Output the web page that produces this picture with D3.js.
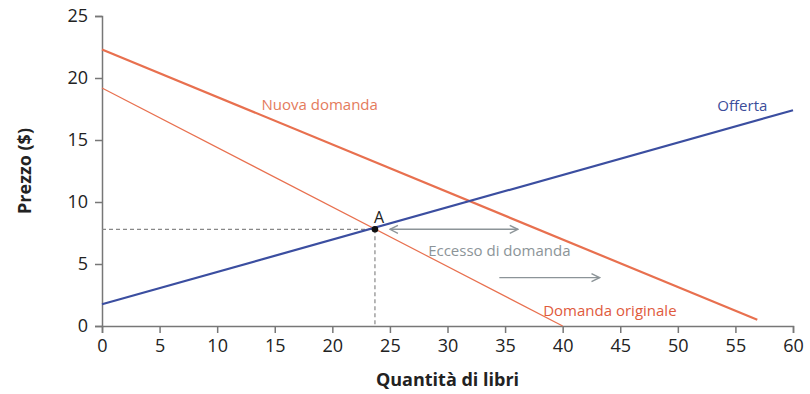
<!DOCTYPE html>
<html><head><meta charset="utf-8">
<script src="https://cdn.jsdelivr.net/npm/d3@7"></script>
<style>body{margin:0;background:#fff;} svg{display:block;font-family:"Open Sans",sans-serif;}</style>
</head><body>
<svg id="c" width="810" height="394"></svg>
<script>
const xTicks = [0,5,10,15,20,25,30,35,40,45,50,55,60];
const yTicks = [0,5,10,15,20,25];
const supply = [[0,1.75],[60,17.4]];
const demandOriginal = [[0,19.2],[40,0]];
const demandNew = [[0,22.3],[56.9,0.5]];
const pointA = [23.7,7.8];
const arrowExcess = [[25.0,7.8],[36.1,7.8]];
const arrowShift = [[34.5,3.9],[43.2,3.9]];
const labels = [
  {text:"Nuova domanda", x:18.9, y:17.4, color:"#e47b5c", size:15},
  {text:"Offerta", x:55.6, y:17.3, color:"#3b4d9a", size:15},
  {text:"Domanda originale", x:44.1, y:0.8, color:"#e05a3c", size:15},
  {text:"Eccesso di domanda", x:34.5, y:5.65, color:"#8c9498", size:15},
  {text:"A", x:24.05, y:8.3, color:"#222", size:16}
];

const svg = d3.select("#c");
const m = {l:102, t:16, w:691, h:310};
const x = d3.scaleLinear().domain([0,60]).range([m.l, m.l+m.w]);
const y = d3.scaleLinear().domain([0,25]).range([m.t+m.h, m.t]);

const defs = svg.append("defs");
defs.append("marker").attr("id","ah").attr("viewBox","0 0 10 10").attr("refX",9).attr("refY",5)
  .attr("markerWidth",10).attr("markerHeight",10).attr("markerUnits","userSpaceOnUse").attr("orient","auto-start-reverse")
  .append("path").attr("d","M1,1 L9,5 L1,9").attr("fill","none").attr("stroke","#8c9498").attr("stroke-width",1.4);

const xa = svg.append("g").attr("transform",`translate(0,${y(0)})`)
  .call(d3.axisBottom(x).tickValues(xTicks).tickSize(7).tickPadding(6));
const ya = svg.append("g").attr("transform",`translate(${x(0)},0)`)
  .call(d3.axisLeft(y).tickValues(yTicks).tickSize(7).tickPadding(7));
[xa,ya].forEach(a=>{
  a.selectAll("path,line").attr("stroke","#777").attr("stroke-width",1.5);
  a.selectAll("text").attr("font-size",18).attr("fill","#222").attr("font-family","'Open Sans',sans-serif");
});

// dashed guides
svg.append("path").attr("d",`M${x(0)},${y(pointA[1])}H${x(pointA[0])}V${y(0)}`)
  .attr("fill","none").attr("stroke","#888").attr("stroke-width",1.2).attr("stroke-dasharray","4,3");

const line = d3.line().x(d=>x(d[0])).y(d=>y(d[1]));
svg.append("path").datum(demandOriginal).attr("d",line).attr("stroke","#e8704f").attr("stroke-width",1.2).attr("fill","none");
svg.append("path").datum(demandNew).attr("d",line).attr("stroke","#e8704f").attr("stroke-width",2.2).attr("fill","none");
svg.append("path").datum(supply).attr("d",line).attr("stroke","#3b4ea0").attr("stroke-width",2.2).attr("fill","none");

svg.append("path").datum(arrowExcess).attr("d",line).attr("stroke","#8c9498").attr("stroke-width",1.4).attr("fill","none")
  .attr("marker-start","url(#ah)").attr("marker-end","url(#ah)");
svg.append("path").datum(arrowShift).attr("d",line).attr("stroke","#8c9498").attr("stroke-width",1.4).attr("fill","none")
  .attr("marker-end","url(#ah)");

svg.append("circle").attr("cx",x(pointA[0])).attr("cy",y(pointA[1])).attr("r",3.3).attr("fill","#111");

svg.selectAll("text.lbl").data(labels).enter().append("text").attr("class","lbl")
  .attr("x",d=>x(d.x)).attr("y",d=>y(d.y)).attr("text-anchor","middle")
  .attr("fill",d=>d.color).attr("font-size",d=>d.size).text(d=>d.text);

svg.append("text").attr("x",x(30)).attr("y",386).attr("text-anchor","middle")
  .attr("font-size",18).attr("font-weight","bold").attr("fill","#222").text("Quantità di libri");
svg.append("text").attr("transform",`translate(31,${y(12.5)}) rotate(-90)`).attr("text-anchor","middle")
  .attr("font-size",18).attr("font-weight","bold").attr("fill","#222").text("Prezzo ($)");
</script>
</body></html>
